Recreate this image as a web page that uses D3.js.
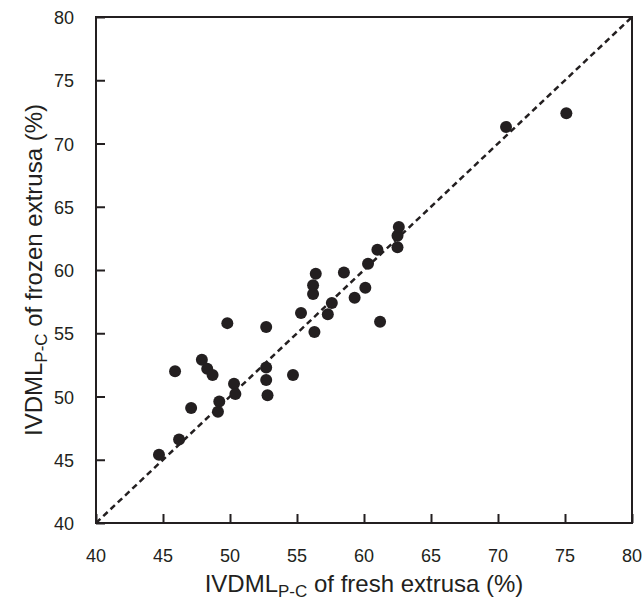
<!DOCTYPE html>
<html>
<head>
<meta charset="utf-8">
<script src="https://cdn.jsdelivr.net/npm/d3@7"></script>
<style>
  body { margin: 0; background: #fff; }
  text { font-family: "Liberation Sans", Arial, sans-serif; fill: #231f20; }
</style>
</head>
<body>
<svg id="chart" width="644" height="604"></svg>
<script>
'use strict';

// IVDML values: fresh (x) vs frozen (y)
const fresh = [44.7, 46.2, 45.9, 47.1, 47.9, 48.3, 48.7, 49.2, 49.1, 49.8, 50.3, 50.4,
  52.7, 52.7, 52.7, 52.8, 54.7, 55.3, 56.3, 57.3, 57.6, 56.2, 56.2, 56.4, 58.5,
  59.3, 60.1, 60.3, 61.0, 61.2, 62.5, 62.5, 62.6, 70.6, 75.1];
const frozen = [45.4, 46.6, 52.0, 49.1, 52.9, 52.2, 51.7, 49.6, 48.8, 55.8, 51.0, 50.2,
  55.5, 52.3, 51.3, 50.1, 51.7, 56.6, 55.1, 56.5, 57.4, 58.1, 58.8, 59.7, 59.8,
  57.8, 58.6, 60.5, 61.6, 55.9, 61.8, 62.7, 63.4, 71.3, 72.4];
const ticks = [40, 45, 50, 55, 60, 65, 70, 75, 80];
const domain = [40, 80];

const margin = {left: 96, right: 12, top: 17, bottom: 81};
const W = 644, H = 604;
const svg = d3.select("#chart");

const x = d3.scaleLinear().domain(domain).range([margin.left, W - margin.right]);
const y = d3.scaleLinear().domain(domain).range([H - margin.bottom, margin.top]);

const ink = "#231f20";

// frame
svg.append("rect")
  .attr("x", x(40)).attr("y", y(80))
  .attr("width", x(80) - x(40)).attr("height", y(40) - y(80))
  .attr("fill", "none").attr("stroke", ink).attr("stroke-width", 2);

// inward ticks
let xAxis = svg.append("g").attr("transform", `translate(0,${y(40)})`)
  .call(d3.axisTop(x).tickValues(ticks).tickSize(9).tickFormat(""));
let yAxis = svg.append("g").attr("transform", `translate(${x(40)},0)`)
  .call(d3.axisRight(y).tickValues(ticks).tickSize(9).tickFormat(""));
[xAxis, yAxis].forEach(g => {
  g.select(".domain").remove();
  g.selectAll("line").attr("stroke", ink).attr("stroke-width", 2);
});

// tick labels
svg.append("g").selectAll("text").data(ticks).join("text")
  .attr("x", d => x(d)).attr("y", y(40) + 39)
  .attr("text-anchor", "middle").attr("font-size", 18).text(d => d);
svg.append("g").selectAll("text").data(ticks).join("text")
  .attr("x", x(40) - 22).attr("y", d => y(d) + 7)
  .attr("text-anchor", "end").attr("font-size", 18).text(d => d);

// 1:1 line
svg.append("line")
  .attr("x1", x(40)).attr("y1", y(40)).attr("x2", x(80)).attr("y2", y(80))
  .attr("stroke", ink).attr("stroke-width", 2.5).attr("stroke-dasharray", "6,4");

// points
svg.append("g").selectAll("circle").data(fresh).join("circle")
  .attr("cx", d => x(d)).attr("cy", (d, i) => y(frozen[i]))
  .attr("r", 6).attr("fill", ink);

// axis titles
let xt = svg.append("text")
  .attr("x", (x(40) + x(80)) / 2).attr("y", 592)
  .attr("text-anchor", "middle").attr("font-size", 24);
xt.append("tspan").text("IVDML");
xt.append("tspan").attr("dy", 5).attr("font-size", 17).text("P-C");
xt.append("tspan").attr("dy", -5).text(" of fresh extrusa (%)");

let yt = svg.append("text")
  .attr("transform", `translate(42,${(y(40) + y(80)) / 2}) rotate(-90)`)
  .attr("text-anchor", "middle").attr("font-size", 24);
yt.append("tspan").text("IVDML");
yt.append("tspan").attr("dy", 5).attr("font-size", 17).text("P-C");
yt.append("tspan").attr("dy", -5).text(" of frozen extrusa (%)");
</script>
</body>
</html>
